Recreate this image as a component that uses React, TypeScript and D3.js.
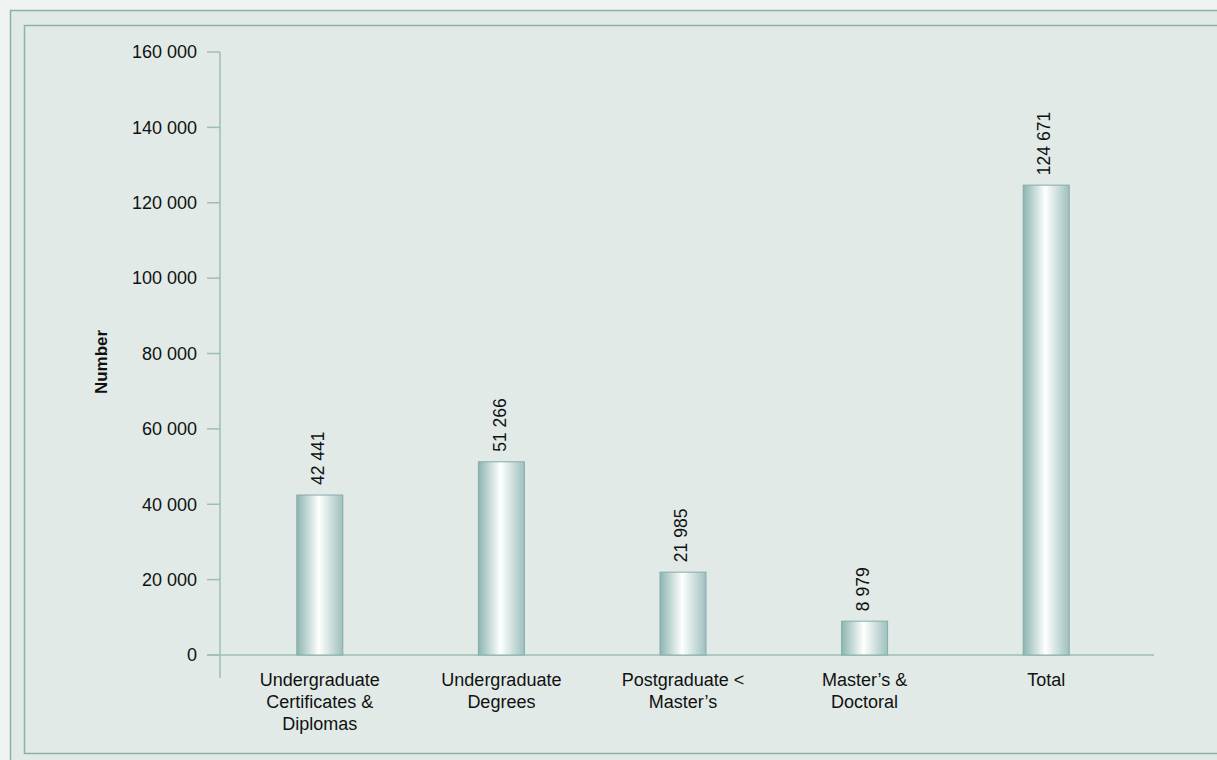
import React from 'react';
import * as d3 from 'd3';

const categories = [
  ['Undergraduate', 'Certificates &', 'Diplomas'],
  ['Undergraduate', 'Degrees'],
  ['Postgraduate <', 'Master\u2019s'],
  ['Master\u2019s &', 'Doctoral'],
  ['Total'],
];
const values = [42441, 51266, 21985, 8979, 124671];
const yTicks = [0, 20000, 40000, 60000, 80000, 100000, 120000, 140000, 160000];

const W = 1217;
const H = 760;
const FONT = '"Liberation Sans", Arial, sans-serif';
const AXIS = '#9bbfb2';

const fmt = d3.formatLocale({ decimal: '.', thousands: ' ', grouping: [3], currency: ['', ''] }).format(',d');

export default function App() {
  const ref = React.useRef<SVGSVGElement>(null);

  React.useEffect(() => {
    const svg = d3.select(ref.current);
    svg.selectAll('*').remove();

    const defs = svg.append('defs');
    const grad = defs
      .append('linearGradient')
      .attr('id', 'barGrad')
      .attr('x1', '0%')
      .attr('x2', '100%')
      .attr('y1', '0%')
      .attr('y2', '0%');
    grad.append('stop').attr('offset', '0%').attr('stop-color', '#8cb4b1');
    grad.append('stop').attr('offset', '48%').attr('stop-color', '#ffffff');
    grad.append('stop').attr('offset', '100%').attr('stop-color', '#9dc0be');

    // background and frames
    svg.append('rect').attr('width', W).attr('height', H).attr('fill', '#eff4f2');
    svg
      .append('rect')
      .attr('x', 10.5)
      .attr('y', 10.5)
      .attr('width', W + 20)
      .attr('height', H + 20)
      .attr('fill', '#e1eae7')
      .attr('stroke', '#8bb2a3')
      .attr('stroke-width', 1.5);
    svg
      .append('rect')
      .attr('x', 24.5)
      .attr('y', 25.5)
      .attr('width', W + 20)
      .attr('height', 728)
      .attr('fill', 'none')
      .attr('stroke', '#8bb2a3')
      .attr('stroke-width', 1.5);

    const x = d3
      .scalePoint<number>()
      .domain(values.map((_, i) => i))
      .range([229, 1137])
      .padding(0.5);
    const y = d3.scaleLinear().domain([0, 160000]).range([655, 52]);
    const barW = 46;

    // y axis
    const g = svg.append('g');
    g.append('line')
      .attr('x1', 220)
      .attr('x2', 220)
      .attr('y1', y(160000))
      .attr('y2', 678)
      .attr('stroke', AXIS)
      .attr('stroke-width', 1.5);
    g.selectAll('.tick')
      .data(yTicks)
      .enter()
      .append('line')
      .attr('x1', 207)
      .attr('x2', 220)
      .attr('y1', (d) => y(d))
      .attr('y2', (d) => y(d))
      .attr('stroke', AXIS)
      .attr('stroke-width', 1.5);
    g.selectAll('.tlabel')
      .data(yTicks)
      .enter()
      .append('text')
      .attr('x', 197)
      .attr('y', (d) => y(d))
      .attr('dy', '0.35em')
      .attr('text-anchor', 'end')
      .attr('font-family', FONT)
      .attr('font-size', 18)
      .attr('fill', '#111')
      .text((d) => fmt(d));

    // x axis
    g.append('line')
      .attr('x1', 207)
      .attr('x2', 1154)
      .attr('y1', y(0))
      .attr('y2', y(0))
      .attr('stroke', AXIS)
      .attr('stroke-width', 1.5);

    // bars
    svg
      .selectAll('.bar')
      .data(values)
      .enter()
      .append('rect')
      .attr('x', (_, i) => (x(i) as number) - barW / 2)
      .attr('y', (d) => y(d))
      .attr('width', barW)
      .attr('height', (d) => y(0) - y(d))
      .attr('fill', 'url(#barGrad)')
      .attr('stroke', '#86aca9')
      .attr('stroke-width', 1);

    // value labels
    svg
      .selectAll('.vlabel')
      .data(values)
      .enter()
      .append('text')
      .attr('transform', (d, i) => `translate(${(x(i) as number) - 2},${y(d) - 10}) rotate(-90)`)
      .attr('dy', '0.35em')
      .attr('text-anchor', 'start')
      .attr('font-family', FONT)
      .attr('font-size', 17.5)
      .attr('fill', '#111')
      .text((d) => fmt(d));

    // category labels
    const cl = svg
      .selectAll('.clabel')
      .data(categories)
      .enter()
      .append('text')
      .attr('text-anchor', 'middle')
      .attr('font-family', FONT)
      .attr('font-size', 18)
      .attr('fill', '#111');
    cl.each(function (lines, i) {
      d3.select(this)
        .selectAll('tspan')
        .data(lines)
        .enter()
        .append('tspan')
        .attr('x', x(i) as number)
        .attr('y', (_, j) => 686 + j * 22)
        .text((t) => t);
    });

    // y title
    svg
      .append('text')
      .attr('transform', 'translate(101,362) rotate(-90)')
      .attr('dy', '0.35em')
      .attr('text-anchor', 'middle')
      .attr('font-family', FONT)
      .attr('font-size', 17)
      .attr('font-weight', 'bold')
      .attr('fill', '#111')
      .text('Number');
  }, []);

  return (
    <svg
      ref={ref}
      width={W}
      height={H}
      style={{ position: 'absolute', left: 0, top: 0, display: 'block' }}
    />
  );
}
